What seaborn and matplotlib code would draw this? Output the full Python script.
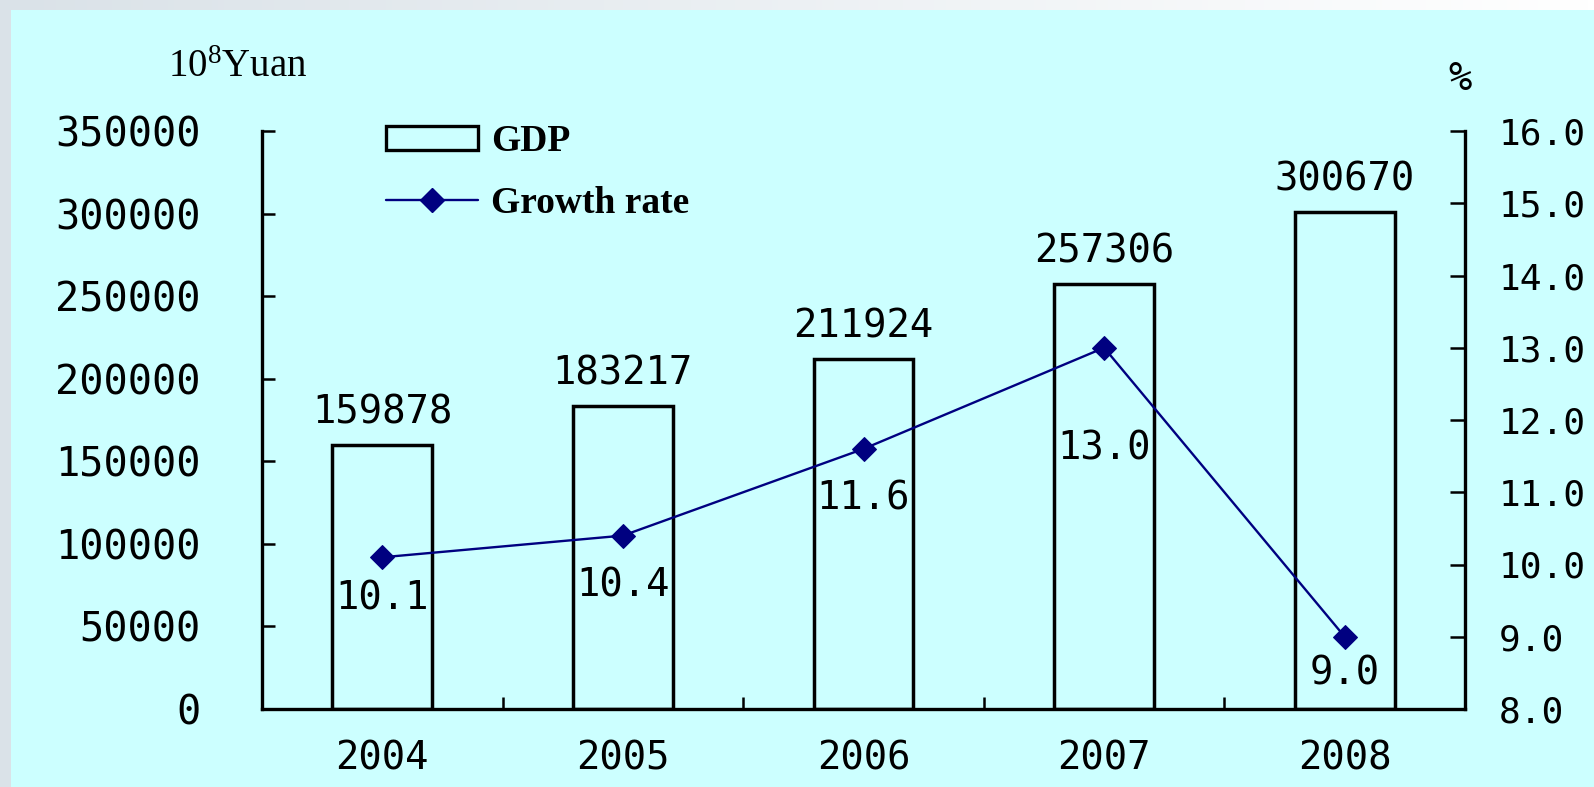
import numpy as np
import pandas as pd
import matplotlib
matplotlib.use('Agg')
import matplotlib.pyplot as plt
import matplotlib.patches as mpatches
import matplotlib.colors as mcolors
from matplotlib.lines import Line2D
from matplotlib.ticker import FixedLocator, FormatStrFormatter
import seaborn as sns

# data
years = ['2004', '2005', '2006', '2007', '2008']
gdp = [159878, 183217, 211924, 257306, 300670]      # 10^8 Yuan
growth = [10.1, 10.4, 11.6, 13.0, 9.0]               # %
gdp_ticks = [0, 50000, 100000, 150000, 200000, 250000, 300000, 350000]
rate_ticks = [8.0, 9.0, 10.0, 11.0, 12.0, 13.0, 14.0, 15.0, 16.0]

# how far below each marker its value label sits (points)
label_drop = [16, 22, 22, 59, 13]

df = pd.DataFrame({'Year': years, 'GDP': gdp, 'Growth': growth})

sns.set_style('ticks')
MONO = 'DejaVu Sans Mono'
SERIF = 'Liberation Serif'
plt.rcParams['font.family'] = [MONO]
plt.rcParams['text.color'] = 'black'
plt.rcParams['xtick.color'] = 'black'
plt.rcParams['ytick.color'] = 'black'

PANEL = '#CCFFFF'
NAVY = '#000080'
W, H = 1594, 787

fig = plt.figure(figsize=(W / 100, H / 100), dpi=100)
fig.patch.set_facecolor('#DAE2E8')

# backdrop: grey slide with a light strip on top and the cyan panel
bg = fig.add_axes([0, 0, 1, 1], zorder=-10)
bg.axis('off')
bg.set_xlim(0, 1)
bg.set_ylim(0, 1)
c0 = np.array(mcolors.to_rgb('#DAE2E8'))
t = np.linspace(0, 1, 256)[:, None]
grad = (c0 + (1 - c0) * t)[None, :, :]
bg.imshow(grad, extent=[0, 1, 1 - 10 / H, 1], aspect='auto')
bg.add_patch(mpatches.Rectangle((11 / W, 0), 1, 1 - 10 / H, color=PANEL, lw=0))

# main axes
ax = fig.add_axes([262 / W, 78 / H, 1203 / W, 578 / H])
ax.set_facecolor('none')
sns.barplot(data=df, x='Year', y='GDP', ax=ax, fill=False, color='black',
            linewidth=2.5, width=0.415)
ax.set_ylim(0, 350000)
ax.set_yticks(gdp_ticks)
ax.set_xlabel('')
ax.set_ylabel('')
ax.xaxis.set_minor_locator(FixedLocator(np.arange(len(years) - 1) + 0.5))
ax.tick_params(axis='x', which='major', length=0, pad=22, labelsize=28)
ax.tick_params(axis='x', which='minor', direction='in', length=9, width=1.8)
ax.tick_params(axis='y', direction='in', length=9.5, width=1.8, pad=44, labelsize=29)

ax.bar_label(ax.containers[0], labels=[str(v) for v in gdp], padding=10,
             fontsize=28, family=MONO)

# growth rate on the right axis
ax2 = ax.twinx()
sns.lineplot(x=np.arange(len(years)), y=growth, ax=ax2, color=NAVY,
             marker='D', markersize=12.5, markeredgecolor=NAVY, linewidth=1.7)
ax2.set_ylim(8, 16)
ax2.set_yticks(rate_ticks)
ax2.yaxis.set_major_formatter(FormatStrFormatter('%.1f'))
ax2.tick_params(axis='y', direction='in', length=11, width=1.8, pad=24, labelsize=26)
ax2.set_ylabel('')
ax.set_xlim(-0.5, len(years) - 0.5)

for i, (v, d) in enumerate(zip(growth, label_drop)):
    ax2.annotate(f'{v:.1f}', (i, v), xytext=(0, -d), textcoords='offset points',
                 ha='center', va='top', fontsize=28, family=MONO)

for a in (ax, ax2):
    a.spines['top'].set_visible(False)
    for s in a.spines.values():
        s.set_linewidth(2.4)
        s.set_color('black')
ax.spines['right'].set_visible(False)
ax2.spines['left'].set_visible(False)
ax2.spines['bottom'].set_visible(False)

# legend
handles = [mpatches.Patch(facecolor='none', edgecolor='black', linewidth=2.4),
           Line2D([], [], color=NAVY, marker='D', markersize=12.5, linewidth=1.7)]
ax2.legend(handles, ['GDP', 'Growth rate'], loc='upper left',
           bbox_to_anchor=(386 / W, 1 - 124 / H), bbox_transform=fig.transFigure,
           frameon=False, prop={'family': SERIF, 'weight': 'bold', 'size': 27},
           handlelength=2.45, handleheight=0.6, handletextpad=0.35,
           labelspacing=0.72, borderpad=0, borderaxespad=0)

# unit labels
fig.text(168 / W, 1 - 77 / H, r'$\mathregular{10^{8}}$Yuan', family=SERIF,
         fontsize=28, va='baseline')
fig.text(1460 / W, 1 - 90 / H, '%', family=MONO, fontsize=28,
         ha='center', va='baseline')

fig.savefig('out.png', dpi=100, facecolor=fig.get_facecolor())
